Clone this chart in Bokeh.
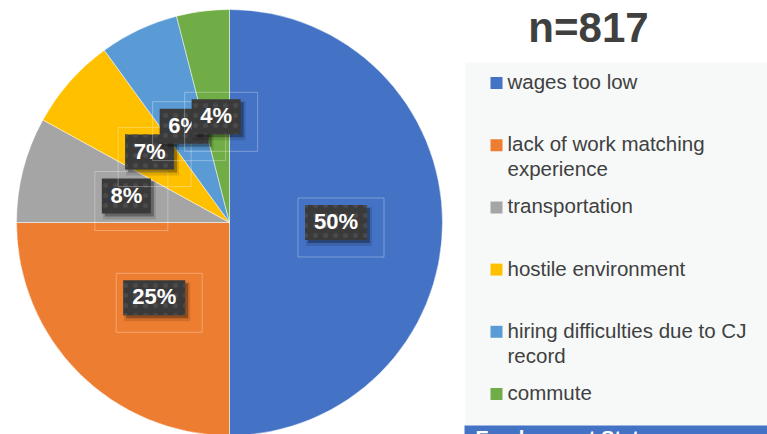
import numpy as np
from bokeh.plotting import figure
from bokeh.models import Range1d
from bokeh.core.properties import value
from bokeh.embed import file_html
from bokeh.resources import INLINE

# ---- data ----
categories = ["wages too low", "lack of work matching experience", "transportation",
              "hostile environment", "hiring difficulties due to CJ record", "commute"]
legend_labels = ["wages too low", "lack of work matching\nexperience", "transportation",
                 "hostile environment", "hiring difficulties due to CJ\nrecord", "commute"]
shares = [50, 25, 8, 7, 6, 4]
pct_labels = ["50%", "25%", "8%", "7%", "6%", "4%"]
colors = ["#4472C4", "#ED7D31", "#A5A5A5", "#FFC000", "#5B9BD5", "#70AD47"]
title_text = "n=817"
footer_text = "Employment Status"

# ---- layout helpers (screen px -> data) ----
W, H = 767, 434
def sx(x):
    return x
def sy(y):
    return H - y

FONT = "Liberation Sans"
TXT = "#404040"

p = figure(width=W, height=H, x_range=Range1d(0, W), y_range=Range1d(0, H),
           output_backend="svg", toolbar_location=None, min_border=0)
p.axis.visible = False
p.grid.visible = False
p.outline_line_color = None
p.background_fill_color = "white"
p.border_fill_color = "white"

# ---- pie ----
cx, cy, R = sx(229), sy(222), 213
frac = np.array(shares, dtype=float) / sum(shares)
cum = np.cumsum(frac)
start = np.pi / 2 - 2 * np.pi * (cum - frac)
end = np.pi / 2 - 2 * np.pi * cum
p.wedge(x=cx, y=cy, radius=R, start_angle=list(start), end_angle=list(end),
        direction="clock", fill_color=colors, line_color="white", line_alpha=0.6,
        line_width=0.8)

# ---- data labels ----
mid = (start + end) / 2
lx = cx + 0.5 * R * np.cos(mid)
ly = cy + 0.5 * R * np.sin(mid)
for i, lab in enumerate(pct_labels):
    bw = 62 if len(lab) == 3 else 49
    bh = 35
    # faint outline box
    p.rect(x=[lx[i] + 5], y=[ly[i] - 5], width=bw + 24, height=bh + 24,
           fill_alpha=0, line_color="white", line_alpha=0.3, line_width=1)
    # shadow
    p.rect(x=[lx[i] + 3], y=[ly[i] - 4], width=bw + 4, height=bh + 4,
           fill_color="black", fill_alpha=0.12, line_alpha=0)
    p.rect(x=[lx[i] + 3], y=[ly[i] - 3], width=bw, height=bh,
           fill_color="black", fill_alpha=0.3, line_alpha=0)
    # box
    p.rect(x=[lx[i]], y=[ly[i]], width=bw, height=bh,
           fill_color="#3A3A3A", line_alpha=0,
           hatch_pattern="dot", hatch_color="#4A4A4A", hatch_scale=10, hatch_weight=3)
    p.text(x=[lx[i]], y=[ly[i] + 1], text=[lab], text_color="white",
           text_font=value(FONT), text_font_style="bold", text_font_size="22px",
           text_align="center", text_baseline="middle")

# ---- title ----
p.text(x=[sx(588)], y=[sy(27)], text=[title_text], text_color=TXT,
       text_font=value(FONT), text_font_style="bold", text_font_size="42px",
       text_align="center", text_baseline="middle")

# ---- legend (manual) ----
p.quad(left=sx(465), right=W, top=sy(62), bottom=sy(425),
       fill_color="#F7F9F9", line_alpha=0)
p.quad(left=sx(464), right=W, top=sy(425), bottom=0,
       fill_color="#4472C4", line_alpha=0)
p.text(x=[sx(475)], y=[sy(426)], text=[footer_text], text_color="white",
       text_font=value(FONT), text_font_style="bold", text_font_size="20px",
       text_align="left", text_baseline="top")
n = len(categories)
step = 62.2
my = [sy(82.5 + step * i) for i in range(n)]
p.rect(x=[sx(496)] * n, y=my, width=12, height=12, fill_color=colors, line_alpha=0)
p.text(x=[sx(507)] * n, y=[m + 13 for m in my], text=legend_labels, text_color=TXT,
       text_font=value(FONT), text_font_size="20.5px", text_align="left",
       text_baseline="top", text_line_height=1.1)

open("out.html", "w").write(file_html(p, INLINE))
